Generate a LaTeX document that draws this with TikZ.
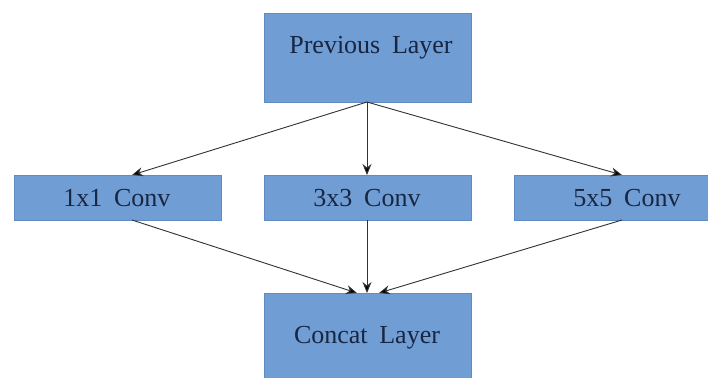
\documentclass[tikz,border=0pt]{standalone}
\usepackage{fontspec}
\setmainfont{Liberation Serif}
\newfontfamily\boxfont{Liberation Serif}
\usetikzlibrary{arrows.meta}
\definecolor{boxfill}{RGB}{112,157,212}
\definecolor{boxedge}{RGB}{95,140,196}
\definecolor{txt}{RGB}{24,38,66}
\definecolor{arr}{RGB}{50,50,50}
\begin{document}
\begin{tikzpicture}[x=1pt,y=-1pt,
  layerbox/.style={fill=boxfill,draw=boxedge,line width=0.8pt},
  lbl/.style={text=txt,font=\boxfont\fontsize{26}{28}\selectfont,inner sep=0pt},
  conn/.style={draw=arr,line width=0.9pt,-{Stealth[length=11pt,width=9pt,fill=black]}}]
\useasboundingbox (0,0) rectangle (708,377);
\fill[white] (0,0) rectangle (708,377);
% boxes
\draw[layerbox] (264,13) rectangle (471,102);
\node[lbl] (prev) at (371,48) {Previous\hspace{0.45em}Layer};
\coordinate (prevb) at (367,102);

\draw[layerbox] (14,175) rectangle (221,220);
\node[lbl] (c1) at (117,198) {1x1\hspace{0.45em}Conv};
\draw[layerbox] (264,175) rectangle (471,220);
\node[lbl] (c3) at (367,198) {3x3\hspace{0.45em}Conv};
\draw[layerbox] (514,175) rectangle (720,220);
\node[lbl] (c5) at (627,198) {5x5\hspace{0.45em}Conv};

\draw[layerbox] (264,293) rectangle (471,390);
\node[lbl] (cat) at (367,338) {Concat\hspace{0.45em}Layer};

\coordinate (c1t) at (132,175);
\coordinate (c3t) at (367,175);
\coordinate (c5t) at (622,175);
\coordinate (c1b) at (132,220);
\coordinate (c3b) at (367,220);
\coordinate (c5b) at (622,220);
\coordinate (cat1) at (357,293);
\coordinate (cat3) at (367,293);
\coordinate (cat5) at (379,293);

\draw[conn] (prevb) -- (c1t);
\draw[conn] (prevb) -- (c3t);
\draw[conn] (prevb) -- (c5t);
\draw[conn] (c1b) -- (cat1);
\draw[conn] (c3b) -- (cat3);
\draw[conn] (c5b) -- (cat5);
\end{tikzpicture}
\end{document}
